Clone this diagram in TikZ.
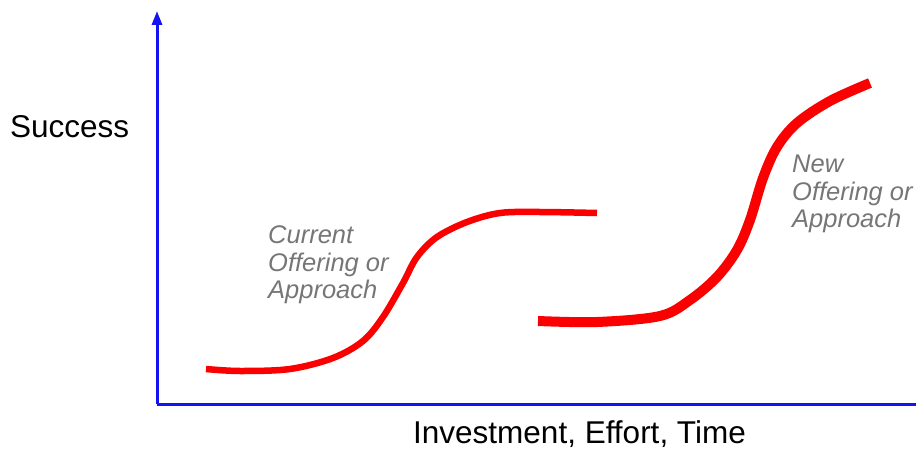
\documentclass[tikz,border=0pt]{standalone}
\usepackage{fontspec}
\setmainfont{Liberation Sans}
\usetikzlibrary{arrows.meta}
\definecolor{axisblue}{RGB}{20,20,240}
\definecolor{curvered}{RGB}{250,0,0}
\definecolor{labelgray}{RGB}{118,118,118}
\begin{document}
\begin{tikzpicture}[x=1pt,y=-1pt,
  axis/.style={draw=axisblue,line width=3pt},
  curve/.style={draw=curvered,line cap=butt,line join=round},
  axislabel/.style={inner sep=0pt,anchor=base west,font=\fontsize{31.5}{36}\selectfont},
  graylabel/.style={inner sep=0pt,anchor=base west,text=labelgray,font=\fontsize{25.5}{28}\selectfont\itshape}]
\useasboundingbox (0,0) rectangle (916,452);
\coordinate (origin) at (157,404);
\coordinate (ytop) at (157,11);
\coordinate (xend) at (916,404);
\draw[axis,-{Triangle[length=14pt,width=10pt]}] (origin) -- (ytop);
\draw[axis] (origin) -- (xend);
\node[axislabel] (ylab) at (10,137) {Success};
\node[axislabel] (xlab) at (413,443) {Investment, Effort, Time};
% current curve
\draw[curve,line width=6.5pt] plot[smooth,tension=0.55] coordinates {
 (206,369) (240,371) (290,369) (333,358) (363,341) (383,317) (403,283)
 (417,257) (437,237) (467,222) (500,213) (540,212) (597,213)};
% new curve
\draw[curve,line width=10pt] plot[smooth,tension=0.55] coordinates {
 (538,321) (597,322) (660,316) (690,300) (717,277) (737,250) (750,220)
 (763,178) (777,147) (797,123) (830,101) (870,83)};
\node[graylabel] (c1) at (268,243) {Current};
\node[graylabel] (c2) at (268,271) {Offering or};
\node[graylabel] (c3) at (268,298) {Approach};
\node[graylabel] (n1) at (792,172) {New};
\node[graylabel] (n2) at (792,200) {Offering or};
\node[graylabel] (n3) at (792,227) {Approach};
\end{tikzpicture}
\end{document}
